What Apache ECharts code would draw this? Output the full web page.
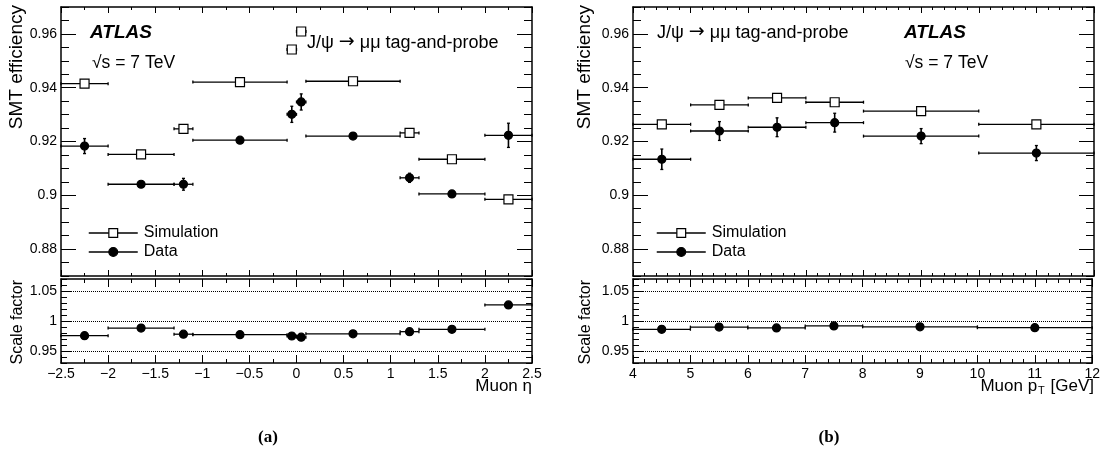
<!DOCTYPE html>
<html>
<head>
<meta charset="utf-8">
<title>SMT efficiency</title>
<script src="https://cdn.jsdelivr.net/npm/echarts@6/dist/echarts.min.js"></script>
<style>
html, body { margin: 0; padding: 0; background: #fff; }
#main { width: 1103px; height: 454px; }
</style>
</head>
<body>
<div id="main"></div>
<script>
// (a) muon eta bins
var etaLo = [-2.5, -2.0, -1.3, -1.1, -0.1, 0.0, 0.1, 1.1, 1.3, 2.0];
var etaHi = [-2.0, -1.3, -1.1, -0.1, 0.0, 0.1, 1.1, 1.3, 2.0, 2.5];
var etaMid = [-2.25, -1.65, -1.2, -0.6, -0.05, 0.05, 0.6, 1.2, 1.65, 2.25];
var etaSim = [0.9415, 0.9152, 0.9247, 0.9421, 0.9542, 0.9609, 0.9424, 0.9232, 0.9134, 0.8985];
var etaData = [0.9183, 0.9041, 0.9041, 0.9205, 0.9301, 0.9347, 0.9220, 0.9065, 0.9005, 0.9223];
var etaDataErr = [0.0028, 0.0010, 0.0022, 0.0008, 0.0030, 0.0030, 0.0008, 0.0017, 0.0009, 0.0045];
var etaSF = [0.9755, 0.9882, 0.9780, 0.9772, 0.9750, 0.9730, 0.9787, 0.9822, 0.9862, 1.0268];

// (b) muon pT bins [GeV]
var ptLo = [4, 5, 6, 7, 8, 10];
var ptHi = [5, 6, 7, 8, 10, 12];
var ptMid = [4.5, 5.5, 6.5, 7.5, 9, 11];
var ptSim = [0.9264, 0.9336, 0.9362, 0.9346, 0.9313, 0.9264];
var ptData = [0.9134, 0.9239, 0.9253, 0.9270, 0.9220, 0.9157];
var ptDataErr = [0.0038, 0.0035, 0.0035, 0.0035, 0.0028, 0.0028];
var ptSF = [0.9862, 0.9898, 0.9885, 0.9918, 0.9903, 0.9888];

// tick labels
var effTicks = [0.88, 0.9, 0.92, 0.94, 0.96];
var sfTicks = [0.95, 1, 1.05];

var FONT = 'Liberation Sans, Arial, sans-serif';

function fmtMinus(v) {
    return String(v).replace('-', '\u2212');
}

// bottom + top x axes of one pad
function xAxes(grid, min, max, step, split, majLen, minLen, labels) {
    return ['bottom', 'top'].map(function (pos) {
        return {
            type: 'value', gridIndex: grid, position: pos,
            min: min, max: max, interval: step,
            axisLine: { show: true, onZero: false, lineStyle: { color: '#000', width: 1.5 } },
            axisTick: { show: true, inside: true, length: majLen, lineStyle: { color: '#000', width: 1 } },
            minorTick: { show: true, splitNumber: split, length: minLen, lineStyle: { color: '#000', width: 1 } },
            axisLabel: {
                show: labels && pos === 'bottom', margin: 4,
                color: '#000', fontSize: 14, fontFamily: FONT,
                formatter: fmtMinus
            },
            splitLine: { show: false },
            minorSplitLine: { show: false }
        };
    });
}

// left/right y axes, each as a major axis (labels) plus a minor-tick axis
function yAxes(grid, min, max, majors, minorStep, majLen, minLen) {
    var out = [];
    ['left', 'right'].forEach(function (pos) {
        out.push({
            type: 'value', gridIndex: grid, position: pos, min: min, max: max,
            axisLine: { show: true, onZero: false, lineStyle: { color: '#000', width: 1.5 } },
            axisTick: { show: true, inside: true, length: majLen, customValues: majors, lineStyle: { color: '#000', width: 1 } },
            axisLabel: {
                show: pos === 'left', customValues: majors, margin: 4,
                color: '#000', fontSize: 14, fontFamily: FONT
            },
            splitLine: { show: false }
        });
        out.push({
            type: 'value', gridIndex: grid, position: pos, min: min, max: max, interval: minorStep,
            axisLine: { show: false, onZero: false },
            axisTick: { show: true, inside: true, length: minLen, lineStyle: { color: '#000', width: 1 } },
            axisLabel: { show: false },
            splitLine: { show: false }
        });
    });
    return out;
}

// horizontal bin-width bars and vertical error bars
function errSeries(xi, yi, lo, hi, mid, val, err) {
    var rows = val.map(function (v, i) {
        return [lo[i], hi[i], mid[i], v, err ? err[i] : 0];
    });
    return {
        type: 'custom', xAxisIndex: xi, yAxisIndex: yi, z: 2, silent: true,
        encode: { x: [0, 1], y: 3 },
        data: rows,
        renderItem: function (params, api) {
            var y = api.value(3), e = api.value(4);
            var a = api.coord([api.value(0), y]);
            var b = api.coord([api.value(1), y]);
            var st = { stroke: '#000', lineWidth: 1.3 };
            var kids = [
                { type: 'line', shape: { x1: a[0], y1: a[1], x2: b[0], y2: b[1] }, style: st },
                { type: 'line', shape: { x1: a[0], y1: a[1] - 1.5, x2: a[0], y2: a[1] + 1.5 }, style: st },
                { type: 'line', shape: { x1: b[0], y1: b[1] - 1.5, x2: b[0], y2: b[1] + 1.5 }, style: st }
            ];
            if (e > 0) {
                var c = api.coord([api.value(2), y + e]);
                var d = api.coord([api.value(2), y - e]);
                kids.push({ type: 'line', shape: { x1: c[0], y1: c[1], x2: d[0], y2: d[1] }, style: { stroke: '#000', lineWidth: 1.6 } });
                kids.push({ type: 'line', shape: { x1: c[0] - 1.5, y1: c[1], x2: c[0] + 1.5, y2: c[1] }, style: st });
                kids.push({ type: 'line', shape: { x1: d[0] - 1.5, y1: d[1], x2: d[0] + 1.5, y2: d[1] }, style: st });
            }
            return { type: 'group', children: kids };
        }
    };
}

function markSeries(name, xi, yi, xs, ys, sym, size, fill) {
    return {
        type: 'line', name: name, xAxisIndex: xi, yAxisIndex: yi, z: 3, silent: true,
        data: xs.map(function (v, i) { return [v, ys[i]]; }),
        symbol: sym, symbolSize: size, showSymbol: true,
        lineStyle: { width: 0, opacity: 0 },
        itemStyle: { color: fill, borderColor: '#000', borderWidth: 1.2 }
    };
}

function refLines(series) {
    series.markLine = {
        silent: true, symbol: 'none', label: { show: false },
        lineStyle: { color: '#000', type: 'dotted', width: 1 },
        data: sfTicks.map(function (v) { return { yAxis: v }; })
    };
    return series;
}

var grids = [
    { left: 61, top: 7, width: 471, height: 269 },
    { left: 61, top: 279, width: 471, height: 84 },
    { left: 633, top: 7, width: 461, height: 269 },
    { left: 633, top: 279, width: 461, height: 84 }
];

var xAxis = [].concat(
    xAxes(0, -2.5, 2.5, 0.5, 2, 6, 3, false),
    xAxes(1, -2.5, 2.5, 0.5, 2, 8, 4, true),
    xAxes(2, 4, 12, 1, 5, 6, 3, false),
    xAxes(3, 4, 12, 1, 5, 8, 4, true)
);

var yAxis = [].concat(
    yAxes(0, 0.87, 0.97, effTicks, 0.005, 15, 8),
    yAxes(1, 0.93, 1.07, sfTicks, 0.01, 11, 6),
    yAxes(2, 0.87, 0.97, effTicks, 0.005, 15, 8),
    yAxes(3, 0.93, 1.07, sfTicks, 0.01, 11, 6)
);

var series = [
    errSeries(0, 0, etaLo, etaHi, etaMid, etaSim, null),
    errSeries(0, 0, etaLo, etaHi, etaMid, etaData, etaDataErr),
    markSeries('Simulation', 0, 0, etaMid, etaSim, 'rect', 9, '#fff'),
    markSeries('Data', 0, 0, etaMid, etaData, 'circle', 8, '#000'),
    errSeries(2, 4, etaLo, etaHi, etaMid, etaSF, null),
    refLines(markSeries('SF a', 2, 4, etaMid, etaSF, 'circle', 8, '#000')),

    errSeries(4, 8, ptLo, ptHi, ptMid, ptSim, null),
    errSeries(4, 8, ptLo, ptHi, ptMid, ptData, ptDataErr),
    markSeries('Simulation', 4, 8, ptMid, ptSim, 'rect', 9, '#fff'),
    markSeries('Data', 4, 8, ptMid, ptData, 'circle', 8, '#000'),
    errSeries(6, 12, ptLo, ptHi, ptMid, ptSF, null),
    refLines(markSeries('SF b', 6, 12, ptMid, ptSF, 'circle', 8, '#000'))
];

function legendAt(x) {
    return {
        left: x, top: 220, orient: 'vertical', selectedMode: false,
        itemWidth: 49, itemHeight: 11, itemGap: 3,
        data: ['Simulation', 'Data'],
        lineStyle: { color: '#000', width: 1.5, opacity: 1, type: 'solid' },
        itemStyle: { borderColor: '#000', borderWidth: 1.2 },
        textStyle: { color: '#000', fontSize: 16, fontFamily: FONT, padding: [0, 0, 0, 1] }
    };
}

function txt(x, y, s, font, align, rot) {
    return {
        type: 'text', x: x, y: y, rotation: rot || 0, silent: true,
        style: { text: s, font: font, fill: '#000', textAlign: align || 'left', textVerticalAlign: 'middle' }
    };
}

// process label with a wider arrow glyph
function procTxt(x, y) {
    return {
        type: 'text', x: x, y: y, silent: true,
        style: {
            text: 'J/\u03C8 {arr|\u2192} \u03BC\u03BC tag-and-probe', font: '18px ' + FONT, fill: '#000',
            textAlign: 'left', textVerticalAlign: 'middle',
            rich: { arr: { fontSize: 19, fontFamily: 'DejaVu Sans', padding: [0, 0, 1, 0] } }
        }
    };
}

var R = Math.PI / 2;
var graphic = [
    txt(90, 33, 'ATLAS', 'italic bold 19px ' + FONT),
    txt(92, 63, '\u221As = 7 TeV', '17.5px ' + FONT),
    procTxt(307, 43),
    txt(17, 5, 'SMT efficiency', '19px ' + FONT, 'right', R),
    txt(18, 280, 'Scale factor', '16px ' + FONT, 'right', R),
    txt(532, 386, 'Muon \u03B7', '17px ' + FONT, 'right'),
    txt(268, 438, '(a)', 'bold 17px Liberation Serif, serif', 'center'),

    procTxt(657, 33),
    txt(904, 33, 'ATLAS', 'italic bold 19px ' + FONT),
    txt(905, 63, '\u221As = 7 TeV', '17.5px ' + FONT),
    txt(585, 5, 'SMT efficiency', '19px ' + FONT, 'right', R),
    txt(586, 280, 'Scale factor', '16px ' + FONT, 'right', R),
    {
        type: 'text', x: 1094, y: 386, silent: true,
        style: {
            text: 'Muon p{sub|T} [GeV]', font: '17px ' + FONT, fill: '#000',
            textAlign: 'right', textVerticalAlign: 'middle',
            rich: { sub: { fontSize: 11, fontFamily: FONT, padding: [10, 1, 0, 1] } }
        }
    },
    txt(829, 438, '(b)', 'bold 17px Liberation Serif, serif', 'center')
];

var chartDom = document.getElementById('main');
var myChart = echarts.init(chartDom);
myChart.setOption({
    animation: false,
    backgroundColor: '#fff',
    grid: grids,
    xAxis: xAxis,
    yAxis: yAxis,
    legend: [legendAt(83), legendAt(651)],
    graphic: graphic,
    series: series
});
</script>
</body>
</html>
